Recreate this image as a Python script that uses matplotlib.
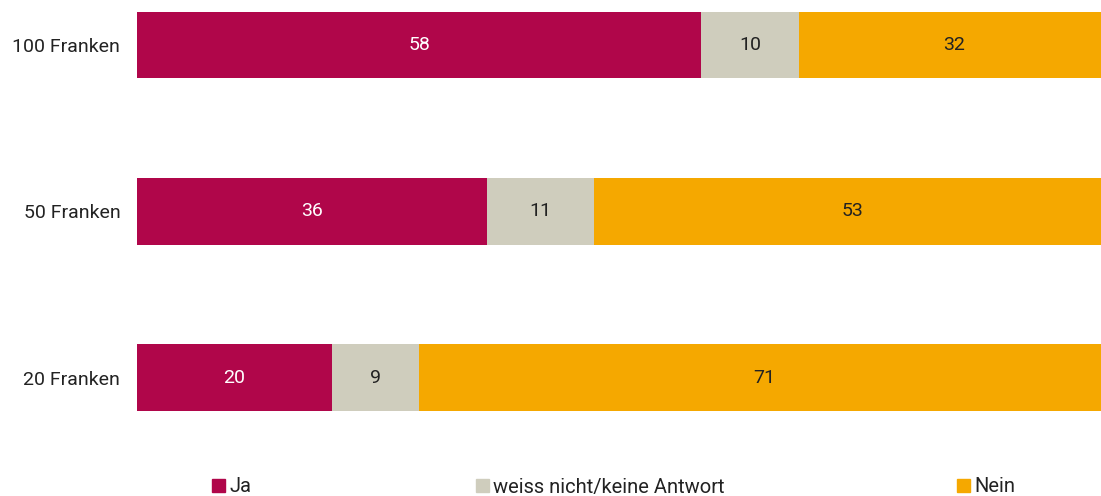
import matplotlib.pyplot as plt
from matplotlib.patches import Rectangle

categories = ["100 Franken", "50 Franken", "20 Franken"]
ja = [58, 36, 20]
weiss = [10, 11, 9]
nein = [32, 53, 71]
series_names = ["Ja", "weiss nicht/keine Antwort", "Nein"]

colors = ["#B0064A", "#CFCDBD", "#F5A800"]
text_colors = ["white", "#222222", "#222222"]

plt.rcParams['font.family'] = ['Roboto', 'Liberation Sans', 'DejaVu Sans']

fig = plt.figure(figsize=(11.01, 4.96), dpi=100)
# axes runs a little past the right edge of the figure (cut off, as in the original)
ax = fig.add_axes([137/1101, 85/496, 973/1101, 399/496])

y = list(range(len(categories)))
left = [0] * len(categories)
for vals, c, tc in zip([ja, weiss, nein], colors, text_colors):
    bars = ax.barh(y, vals, left=left, height=0.4, color=c, edgecolor="none")
    for b, v in zip(bars, vals):
        ax.text(b.get_x() + b.get_width() / 2, b.get_y() + b.get_height() / 2, str(v),
                ha="center", va="center", color=tc, fontsize=14)
    left = [l + v for l, v in zip(left, vals)]

ax.set_xlim(0, 100)
ax.set_ylim(2.2, -0.2)
ax.set_yticks(y)
ax.set_yticklabels(categories, fontsize=14, color="#222222")
ax.tick_params(axis="y", length=0, pad=12)
ax.set_xticks([])
for s in ax.spines.values():
    s.set_visible(False)

# legend
leg_x = [212, 476, 957]
for x, c, name in zip(leg_x, colors, series_names):
    fig.patches.append(Rectangle((x / 1101, (496 - 492) / 496), 13 / 1101, 13 / 496,
                                 transform=fig.transFigure, color=c))
    fig.text((x + 17) / 1101, (496 - 487) / 496, name, ha="left", va="center",
             fontsize=14.5, color="#222222")

fig.savefig("out.png", dpi=100)
